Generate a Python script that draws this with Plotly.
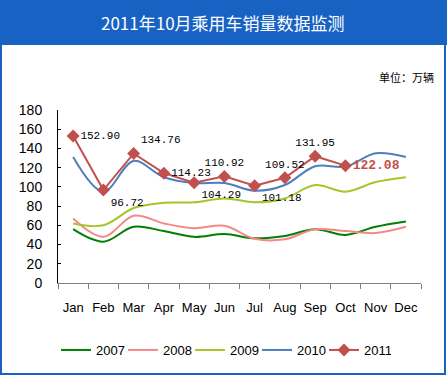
import plotly.graph_objects as go

months = ["Jan", "Feb", "Mar", "Apr", "May", "Jun", "Jul", "Aug", "Sep", "Oct", "Nov", "Dec"]
s2007 = [56, 43, 58.5, 54, 48, 51, 46.5, 49, 56, 50, 58.5, 64]
s2008 = [67, 48, 70, 62, 57, 59.5, 46, 45.5, 56, 54, 52, 58.5]
s2009 = [62, 60, 78, 83.5, 84, 88, 84, 88, 102, 95, 105, 110]
s2010 = [131, 95, 127, 110, 104, 104, 96, 102, 121.5, 121, 135, 131]
s2011 = [152.90, 96.72, 134.76, 114.23, 104.29, 110.92, 101.18, 109.52, 131.95, 122.08]
label_pos = ["middle right", "bottom right", "top right", "middle right", "bottom right",
             "top center", "bottom right", "top center", "top center", "middle right"]
y_ticks = [0, 20, 40, 60, 80, 100, 120, 140, 160, 180]

title = "2011年10月乘用车销量数据监测"
unit = "单位：万辆"

W, H = 447, 377
L, R, T, B = 58, 26, 110, 94
pw, ph = W - L - R, H - T - B

def px(x):
    return (x - L) / pw

def py(y):
    return (H - B - y) / ph

BLUE = "#1862C4"
fig = go.Figure()

for name, vals, col in [("2007", s2007, "#008000"), ("2008", s2008, "#F4888A"),
                        ("2009", s2009, "#A3C62B"), ("2010", s2010, "#4F7EBD")]:
    fig.add_trace(go.Scatter(x=months, y=vals, name=name, mode="lines",
                             line=dict(color=col, width=2, shape="spline", smoothing=1.0)))

texts = [f"{v:.2f}" for v in s2011]
texts[-1] = f"<b>{s2011[-1]:.2f}</b>"
tcolors = ["#000000"] * (len(s2011) - 1) + ["#C0504D"]
tsizes = [11] * (len(s2011) - 1) + [13]
fig.add_trace(go.Scatter(x=months[:len(s2011)], y=s2011, name="2011", mode="lines+markers+text",
                         line=dict(color="#C0504D", width=2),
                         marker=dict(symbol="diamond", size=10, color="#C0504D"),
                         text=texts, textposition=label_pos,
                         textfont=dict(family="Liberation Mono", size=tsizes, color=tcolors)))

shapes = [
    dict(type="rect", xref="paper", yref="paper", x0=px(0), x1=px(W), y0=py(45), y1=py(0),
         fillcolor=BLUE, line=dict(width=0), layer="below"),
    dict(type="rect", xref="paper", yref="paper", x0=px(1), x1=px(445), y0=py(374), y1=py(1),
         fillcolor="rgba(0,0,0,0)", line=dict(color=BLUE, width=2)),
]
annotations = [
    dict(text=title, xref="paper", yref="paper", x=px(223), y=py(22), showarrow=False,
         xanchor="center", yanchor="middle",
         font=dict(family="Noto Sans CJK SC", size=17, color="white")),
    dict(text=unit, xref="paper", yref="paper", x=px(436), y=py(77), showarrow=False,
         xanchor="right", yanchor="middle",
         font=dict(family="Noto Sans CJK SC", size=11, color="black")),
]

fig.update_layout(
    width=W, height=H, margin=dict(l=L, r=R, t=T, b=B, autoexpand=False),
    paper_bgcolor="white", plot_bgcolor="white",
    shapes=shapes, annotations=annotations,
    showlegend=True,
    legend=dict(orientation="h", xref="container", yref="container", x=0.5, xanchor="center",
                y=1 - 350 / H, yanchor="middle", font=dict(family="Liberation Sans", size=13, color="black"),
                entrywidth=22, entrywidthmode="pixels", tracegroupgap=0),
    font=dict(family="Liberation Sans", size=12, color="black"),
)
fig.update_xaxes(type="category", categoryorder="array", categoryarray=months,
                 showline=True, linecolor="#808080", linewidth=1, showgrid=False,
                 ticks="outside", tickson="boundaries", ticklen=5, tickcolor="#808080",
                 ticklabelstandoff=12, tickangle=0, tickfont=dict(size=13), range=[-0.5, 11.5])
fig.update_yaxes(range=[0, 180], tickvals=y_ticks, showline=True, linecolor="#000000", linewidth=1,
                 showgrid=False, zeroline=False, ticks="inside", ticklen=3, tickcolor="#000000",
                 ticklabelstandoff=12, tickfont=dict(size=14))

fig.write_html("out.html", config={"displayModeBar": False},
               post_script="document.body.style.margin='0';document.body.style.overflow='hidden';")
